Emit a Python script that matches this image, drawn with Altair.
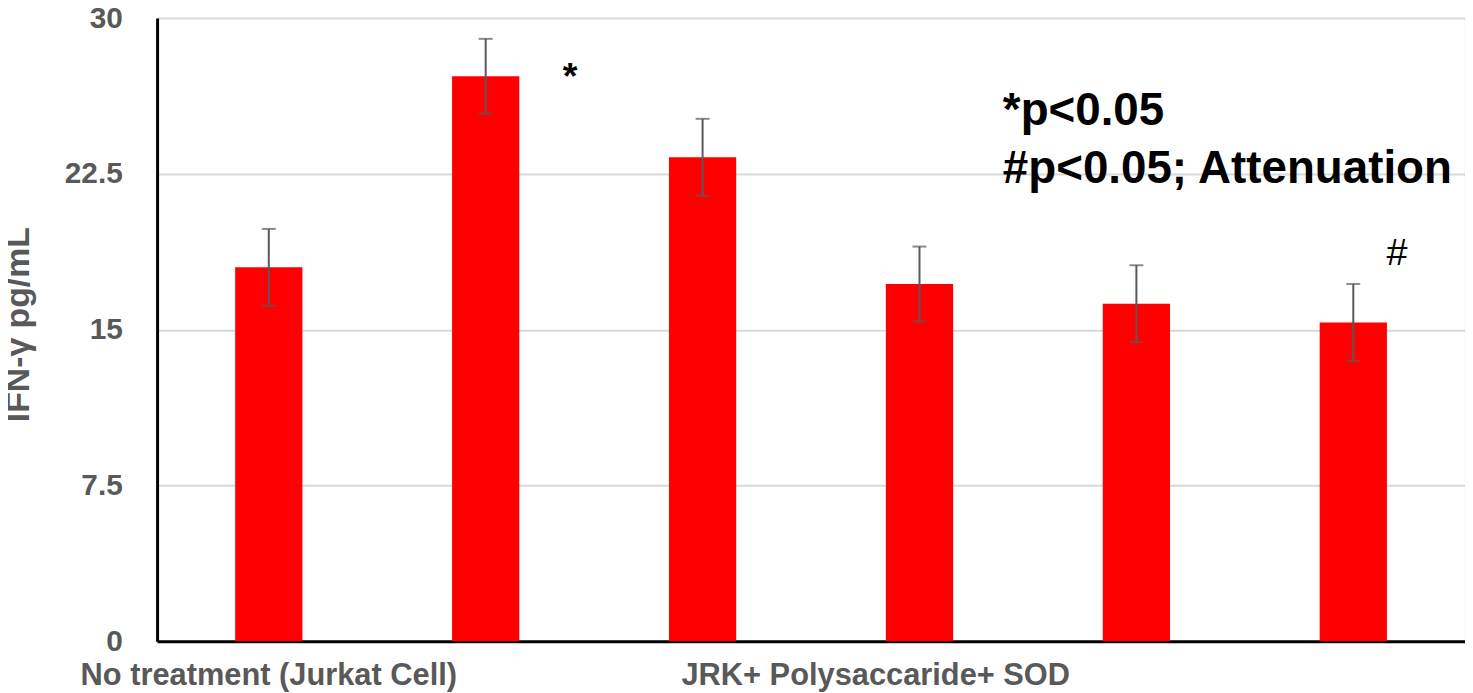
import altair as alt
import pandas as pd

groups = ["G1", "G2", "G3", "G4", "G5", "G6"]
means = [18.0, 27.2, 23.3, 17.2, 16.25, 15.35]
errors = [1.85, 1.8, 1.85, 1.8, 1.85, 1.85]
sig = ["", "*", "", "", "", "#"]
y_ticks = [0, 7.5, 15, 22.5, 30]
x_label_1 = "No treatment (Jurkat Cell)"
x_label_2 = "JRK+ Polysaccaride+ SOD"
note_lines = ["*p<0.05", "#p<0.05; Attenuation"]

df = pd.DataFrame({"group": groups, "mean": means, "err": errors, "sig": sig})
df["lo"] = df["mean"] - df["err"]
df["hi"] = df["mean"] + df["err"]

FONT = "Liberation Sans"
GRAY = "#595959"

xscale = alt.Scale(domain=groups, paddingInner=0.69, paddingOuter=0.36)
yscale = alt.Scale(domain=[0, 30], nice=False)

x = alt.X("group:N", scale=xscale, sort=groups,
          axis=alt.Axis(labels=False, ticks=False, title=None, domainColor="black",
                        domainWidth=3, grid=False))
y = alt.Y("mean:Q", scale=yscale,
          axis=alt.Axis(values=y_ticks, format=".1~f", ticks=False, domainColor="black",
                        domainWidth=3, gridColor="#d9d9d9", gridWidth=2,
                        labelFont=FONT, labelFontSize=30, labelFontWeight="bold",
                        labelColor=GRAY, labelPadding=35,
                        title="IFN-γ pg/mL", titleFont=FONT, titleFontSize=34,
                        titleFontWeight="bold", titleColor=GRAY,
                        titleAngle=-90, titleBaseline="middle", titleAlign="center",
                        titleX=-139, titleY=308))

base = alt.Chart(df)
xe = alt.X("group:N", scale=xscale, sort=groups)

bars = base.mark_bar(color="#ff0000").encode(x=x, y=y)

rules = base.mark_rule(color=GRAY, strokeWidth=2).encode(
    x=xe, y=alt.Y("lo:Q", scale=yscale), y2="hi:Q")
cap_hi = base.mark_tick(color=GRAY, thickness=2, size=14, orient="horizontal").encode(
    x=xe, y=alt.Y("hi:Q", scale=yscale))
cap_lo = base.mark_tick(color=GRAY, thickness=2, size=14, orient="horizontal").encode(
    x=xe, y=alt.Y("lo:Q", scale=yscale))

star = base.transform_filter(alt.datum.sig == "*").mark_text(
    font=FONT, fontSize=38, fontWeight="bold", color="black", dx=85, dy=2,
    baseline="middle").encode(x=xe, y=alt.Y("mean:Q", scale=yscale), text="sig:N")
hashm = base.transform_filter(alt.datum.sig == "#").mark_text(
    font=FONT, fontSize=38, fontWeight="normal", color="black", dx=44, dy=-30,
    baseline="middle").encode(x=xe, y=alt.Y("hi:Q", scale=yscale), text="sig:N")

lab_df = pd.DataFrame({"group": [groups[0], groups[3]], "label": [x_label_1, x_label_2],
                       "v": [0, 0]})
lab1 = alt.Chart(lab_df.iloc[[0]]).mark_text(
    font=FONT, fontSize=31, fontWeight="bold", color=GRAY, dy=35, baseline="middle").encode(
    x=xe, y=alt.Y("v:Q", scale=yscale), text="label:N")
lab2 = alt.Chart(lab_df.iloc[[1]]).mark_text(
    font=FONT, fontSize=31, fontWeight="bold", color=GRAY, dx=-44, dy=35, baseline="middle").encode(
    x=xe, y=alt.Y("v:Q", scale=yscale), text="label:N")

note_df = pd.DataFrame({"line": note_lines, "i": [0, 1]})
notes = alt.Chart(note_df).mark_text(
    font=FONT, fontSize=46, fontWeight="bold", color="black", align="left",
    baseline="alphabetic").encode(
    x=alt.value(851),
    y=alt.Y("i:Q", scale=alt.Scale(domain=[0, 1], range=[108, 166]), axis=None),
    text="line:N")

chart = alt.layer(bars, rules, cap_hi, cap_lo, star, hashm, lab1, lab2, notes).resolve_scale(
    y="independent").properties(
    width=1316, height=627,
    autosize=alt.AutoSizeParams(type="none"),
    padding={"left": 150, "top": 8, "right": 0, "bottom": 57},
).configure_view(stroke=None).configure(background="white")

chart.save("out.html", embed_options={"renderer": "svg", "actions": False})
